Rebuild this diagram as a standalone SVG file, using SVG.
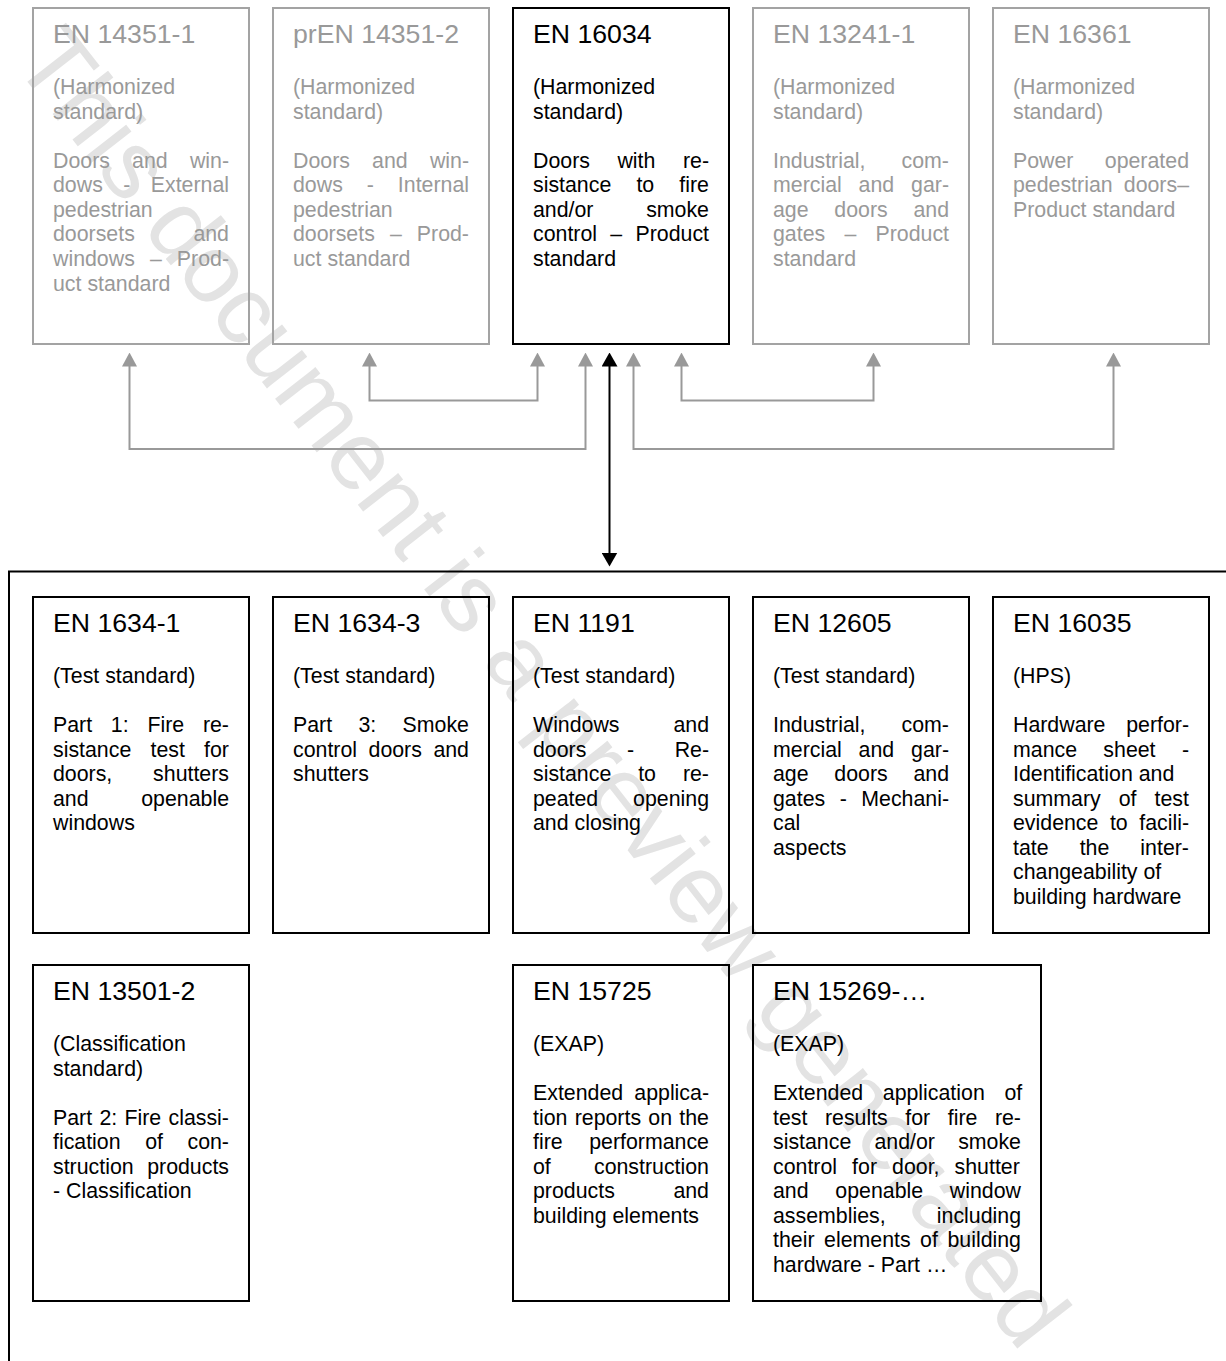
<svg xmlns="http://www.w3.org/2000/svg" width="1226" height="1361" viewBox="0 0 1226 1361">
<style>
text{font-family:"Liberation Sans",Arial,Helvetica,sans-serif}
.t{font-size:26.67px}
.b{font-size:21.33px}
.g{fill:#999999}
.k{fill:#000000}
.rg{fill:none;stroke:#a3a3a3;stroke-width:2}
.rk{fill:none;stroke:#000000;stroke-width:2}
.cg{fill:none;stroke:#999999;stroke-width:2}
.ck{fill:none;stroke:#000000;stroke-width:2}
.wm{font-size:97px;fill:#e3e3e3}
</style>
<defs>
<marker id="ag" viewBox="0 0 14 15" refX="0.5" refY="7.5" markerWidth="14" markerHeight="15" markerUnits="userSpaceOnUse" orient="auto-start-reverse"><path d="M0,0 L14,7.5 L0,15 z" fill="#999999"/></marker>
<marker id="ak" viewBox="0 0 14 16" refX="0.5" refY="8" markerWidth="14" markerHeight="16" markerUnits="userSpaceOnUse" orient="auto-start-reverse"><path d="M0,0 L14,8 L0,16 z" fill="#000000"/></marker>
</defs>
<g id="watermark"><text class="wm" x="12" y="62" transform="rotate(52 12 62)">This document is a preview generated</text></g>
<g id="connectors">
<path class="cg" d="M129.5,366 V449 H585.5 V366" marker-start="url(#ag)" marker-end="url(#ag)"/>
<path class="cg" d="M369.5,366 V400.5 H537.5 V366" marker-start="url(#ag)" marker-end="url(#ag)"/>
<path class="cg" d="M681.5,366 V400.5 H873.5 V366" marker-start="url(#ag)" marker-end="url(#ag)"/>
<path class="cg" d="M633.5,366 V449 H1113.5 V366" marker-start="url(#ag)" marker-end="url(#ag)"/>
<path class="ck" d="M609.5,366 V553" marker-start="url(#ak)" marker-end="url(#ak)"/>
</g>
<g id="group-box"><rect class="rk" x="9" y="571.5" width="1240" height="900"/></g>
<g id="en14351-1">
<rect class="rg" x="33" y="8" width="216" height="336"/>
<text class="t g" x="53" y="43.3">EN 14351-1</text>
<text class="b g" x="53" y="94.3">(Harmonized</text>
<text class="b g" x="53" y="118.8">standard)</text>
<text class="b g" x="53" y="167.8" word-spacing="16.28">Doors and win-</text>
<text class="b g" x="53" y="192.3" word-spacing="14.5">dows - External</text>
<text class="b g" x="53" y="216.9">pedestrian</text>
<text class="b g" x="53" y="241.4" word-spacing="52.67">doorsets and</text>
<text class="b g" x="53" y="265.9" word-spacing="9.16">windows – Prod-</text>
<text class="b g" x="53" y="290.5">uct standard</text>
</g>
<g id="pren14351-2">
<rect class="rg" x="273" y="8" width="216" height="336"/>
<text class="t g" x="293" y="43.3">prEN 14351-2</text>
<text class="b g" x="293" y="94.3">(Harmonized</text>
<text class="b g" x="293" y="118.8">standard)</text>
<text class="b g" x="293" y="167.8" word-spacing="16.28">Doors and win-</text>
<text class="b g" x="293" y="192.3" word-spacing="18.05">dows - Internal</text>
<text class="b g" x="293" y="216.9">pedestrian</text>
<text class="b g" x="293" y="241.4" word-spacing="9.15">doorsets – Prod-</text>
<text class="b g" x="293" y="265.9">uct standard</text>
</g>
<g id="en16034">
<rect class="rk" x="513" y="8" width="216" height="336"/>
<text class="t k" x="533" y="43.3">EN 16034</text>
<text class="b k" x="533" y="94.3">(Harmonized</text>
<text class="b k" x="533" y="118.8">standard)</text>
<text class="b k" x="533" y="167.8" word-spacing="21.62">Doors with re-</text>
<text class="b k" x="533" y="192.3" word-spacing="19.23">sistance to fire</text>
<text class="b k" x="533" y="216.9" word-spacing="46.76">and/or smoke</text>
<text class="b k" x="533" y="241.4" word-spacing="7.37">control – Product</text>
<text class="b k" x="533" y="265.9">standard</text>
</g>
<g id="en13241-1">
<rect class="rg" x="753" y="8" width="216" height="336"/>
<text class="t g" x="773" y="43.3">EN 13241-1</text>
<text class="b g" x="773" y="94.3">(Harmonized</text>
<text class="b g" x="773" y="118.8">standard)</text>
<text class="b g" x="773" y="167.8" word-spacing="30.19">Industrial, com-</text>
<text class="b g" x="773" y="192.3" word-spacing="10.94">mercial and gar-</text>
<text class="b g" x="773" y="216.9" word-spacing="19.81">age doors and</text>
<text class="b g" x="773" y="241.4" word-spacing="13.29">gates – Product</text>
<text class="b g" x="773" y="265.9">standard</text>
</g>
<g id="en16361">
<rect class="rg" x="993" y="8" width="216" height="336"/>
<text class="t g" x="1013" y="43.3">EN 16361</text>
<text class="b g" x="1013" y="94.3">(Harmonized</text>
<text class="b g" x="1013" y="118.8">standard)</text>
<text class="b g" x="1013" y="167.8" word-spacing="25.41">Power operated</text>
<text class="b g" x="1013" y="192.3" word-spacing="5.25">pedestrian doors–</text>
<text class="b g" x="1013" y="216.9">Product standard</text>
</g>
<g id="en1634-1">
<rect class="rk" x="33" y="597" width="216" height="336"/>
<text class="t k" x="53" y="632">EN 1634-1</text>
<text class="b k" x="53" y="683">(Test standard)</text>
<text class="b k" x="53" y="732" word-spacing="12.83">Part 1: Fire re-</text>
<text class="b k" x="53" y="756.5" word-spacing="13.3">sistance test for</text>
<text class="b k" x="53" y="781.1" word-spacing="34.9">doors, shutters</text>
<text class="b k" x="53" y="805.6" word-spacing="46.72">and openable</text>
<text class="b k" x="53" y="830.1">windows</text>
</g>
<g id="en1634-3">
<rect class="rk" x="273" y="597" width="216" height="336"/>
<text class="t k" x="293" y="632">EN 1634-3</text>
<text class="b k" x="293" y="683">(Test standard)</text>
<text class="b k" x="293" y="732" word-spacing="20.42">Part 3: Smoke</text>
<text class="b k" x="293" y="756.5" word-spacing="5.59">control doors and</text>
<text class="b k" x="293" y="781.1">shutters</text>
</g>
<g id="en1191">
<rect class="rk" x="513" y="597" width="216" height="336"/>
<text class="t k" x="533" y="632">EN 1191</text>
<text class="b k" x="533" y="683">(Test standard)</text>
<text class="b k" x="533" y="732" word-spacing="47.96">Windows and</text>
<text class="b k" x="533" y="756.5" word-spacing="34.66">doors - Re-</text>
<text class="b k" x="533" y="781.1" word-spacing="21.01">sistance to re-</text>
<text class="b k" x="533" y="805.6" word-spacing="28.93">peated opening</text>
<text class="b k" x="533" y="830.1">and closing</text>
</g>
<g id="en12605">
<rect class="rk" x="753" y="597" width="216" height="336"/>
<text class="t k" x="773" y="632">EN 12605</text>
<text class="b k" x="773" y="683">(Test standard)</text>
<text class="b k" x="773" y="732" word-spacing="30.19">Industrial, com-</text>
<text class="b k" x="773" y="756.5" word-spacing="10.94">mercial and gar-</text>
<text class="b k" x="773" y="781.1" word-spacing="19.81">age doors and</text>
<text class="b k" x="773" y="805.6" word-spacing="8.57">gates - Mechani-</text>
<text class="b k" x="773" y="830.1">cal</text>
<text class="b k" x="773" y="854.7">aspects</text>
</g>
<g id="en16035">
<rect class="rk" x="993" y="597" width="216" height="336"/>
<text class="t k" x="1013" y="632">EN 16035</text>
<text class="b k" x="1013" y="683">(HPS)</text>
<text class="b k" x="1013" y="732" word-spacing="14.78">Hardware perfor-</text>
<text class="b k" x="1013" y="756.5" word-spacing="20.42">mance sheet -</text>
<text class="b k" x="1013" y="781.1">Identification and</text>
<text class="b k" x="1013" y="805.6" word-spacing="12.13">summary of test</text>
<text class="b k" x="1013" y="830.1" word-spacing="5.6">evidence to facili-</text>
<text class="b k" x="1013" y="854.7" word-spacing="25.15">tate the inter-</text>
<text class="b k" x="1013" y="879.2">changeability of</text>
<text class="b k" x="1013" y="903.7">building hardware</text>
</g>
<g id="en13501-2">
<rect class="rk" x="33" y="965" width="216" height="336"/>
<text class="t k" x="53" y="1000">EN 13501-2</text>
<text class="b k" x="53" y="1051">(Classification</text>
<text class="b k" x="53" y="1075.5">standard)</text>
<text class="b k" x="53" y="1124.5" word-spacing="1.37">Part 2: Fire classi-</text>
<text class="b k" x="53" y="1149" word-spacing="18.63">fication of con-</text>
<text class="b k" x="53" y="1173.6" word-spacing="7.64">struction products</text>
<text class="b k" x="53" y="1198.1">- Classification</text>
</g>
<g id="en15725">
<rect class="rk" x="513" y="965" width="216" height="336"/>
<text class="t k" x="533" y="1000">EN 15725</text>
<text class="b k" x="533" y="1051">(EXAP)</text>
<text class="b k" x="533" y="1100" word-spacing="5.25">Extended applica-</text>
<text class="b k" x="533" y="1124.5" word-spacing="1.35">tion reports on the</text>
<text class="b k" x="533" y="1149" word-spacing="20.69">fire performance</text>
<text class="b k" x="533" y="1173.6" word-spacing="37.27">of construction</text>
<text class="b k" x="533" y="1198.1" word-spacing="52.67">products and</text>
<text class="b k" x="533" y="1222.6">building elements</text>
</g>
<g id="en15269">
<rect class="rk" x="753" y="965" width="288" height="336"/>
<text class="t k" x="773" y="1000">EN 15269-…</text>
<text class="b k" x="773" y="1051">(EXAP)</text>
<text class="b k" x="773" y="1100" word-spacing="13.72">Extended application of</text>
<text class="b k" x="773" y="1124.5" word-spacing="11.62">test results for fire re-</text>
<text class="b k" x="773" y="1149" word-spacing="17.29">sistance and/or smoke</text>
<text class="b k" x="773" y="1173.6" word-spacing="9.15">control for door, shutter</text>
<text class="b k" x="773" y="1198.1" word-spacing="20.83">and openable window</text>
<text class="b k" x="773" y="1222.6" word-spacing="45.27">assemblies, including</text>
<text class="b k" x="773" y="1247.2" word-spacing="3.62">their elements of building</text>
<text class="b k" x="773" y="1271.7">hardware - Part …</text>
</g>
</svg>
